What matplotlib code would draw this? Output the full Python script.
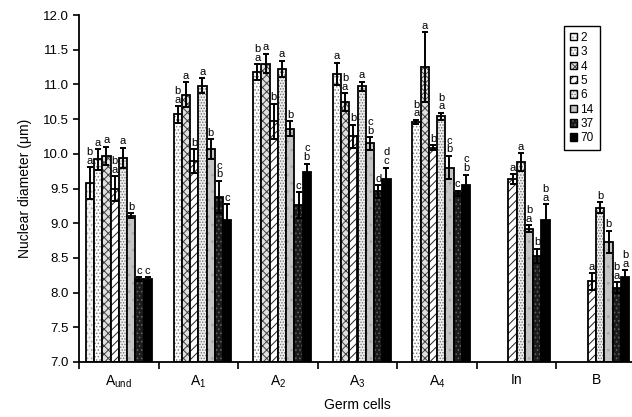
import numpy as np
import matplotlib
matplotlib.use('Agg')
import matplotlib.pyplot as plt
from matplotlib.patches import Patch

plt.rcParams['font.family'] = ['Liberation Sans', 'DejaVu Sans']
plt.rcParams['hatch.linewidth'] = 0.7

nan = np.nan

# germ cell types on the x axis, one series per age (days)
groups = [r'$\mathregular{A_{und}}$', r'$\mathregular{A_1}$', r'$\mathregular{A_2}$',
          r'$\mathregular{A_3}$', r'$\mathregular{A_4}$', 'In', 'B']
ages = ['2', '3', '4', '5', '6', '14', '37', '70']

mean_2 = [9.58, nan, nan, nan, nan, nan, nan]
mean_3 = [9.92, 10.57, 11.18, 11.15, 10.46, nan, nan]
mean_4 = [9.97, 10.85, 11.30, 10.74, 11.25, nan, nan]
mean_5 = [9.50, 9.90, 10.47, 10.25, 10.09, 9.64, 8.16]
mean_6 = [9.94, 10.98, 11.22, 10.97, 10.54, 9.88, 9.22]
mean_14 = [9.11, 10.07, 10.36, 10.15, 9.80, 8.92, 8.73]
mean_37 = [8.19, 9.38, 9.26, 9.46, 9.43, 8.53, 8.07]
mean_70 = [8.19, 9.05, 9.74, 9.63, 9.55, 9.05, 8.22]

err_2 = [0.23, nan, nan, nan, nan, nan, nan]
err_3 = [0.15, 0.12, 0.11, 0.16, 0.03, nan, nan]
err_4 = [0.13, 0.18, 0.14, 0.13, 0.50, nan, nan]
err_5 = [0.18, 0.17, 0.25, 0.17, 0.03, 0.07, 0.12]
err_6 = [0.15, 0.11, 0.12, 0.07, 0.05, 0.13, 0.08]
err_14 = [0.03, 0.14, 0.11, 0.09, 0.17, 0.05, 0.16]
err_37 = [0.03, 0.23, 0.19, 0.09, 0.04, 0.10, 0.08]
err_70 = [0.03, 0.22, 0.12, 0.17, 0.15, 0.22, 0.10]

sig_2 = ['b\na', '', '', '', '', '', '']
sig_3 = ['a', 'b\na', 'b\na', 'a', 'b\na', '', '']
sig_4 = ['a', 'a', 'a', 'b\na', 'a', '', '']
sig_5 = ['b\na', 'b', 'b', 'b', 'b', 'a', 'a']
sig_6 = ['a', 'a', 'a', 'a', 'b\na', 'a', 'b']
sig_14 = ['b', 'b', 'b', 'c\nb', 'c\nb', 'b\na', 'b']
sig_37 = ['c', 'c\nb', 'c', 'd', 'c', 'b', 'b\na']
sig_70 = ['c', 'c', 'c\nb', 'd\nc', 'c\nb', 'b\na', 'b\na']

means = [mean_2, mean_3, mean_4, mean_5, mean_6, mean_14, mean_37, mean_70]
errs = [err_2, err_3, err_4, err_5, err_6, err_14, err_37, err_70]
sigs = [sig_2, sig_3, sig_4, sig_5, sig_6, sig_14, sig_37, sig_70]

# fill colour, hatch, hatch colour for each age
styles = [('#f4f4f4', '....', '#a8a8a8'),
          ('white', '.....', '#808080'),
          ('#e0e0e0', 'xxxx', '#404040'),
          ('white', '////', '#202020'),
          ('#f0f0f0', '......', '#707070'),
          ('#c4c4c4', '..', '#a8a8a8'),
          ('#1a1a1a', '....', '#606060'),
          ('black', None, 'black')]

fig = plt.figure(figsize=(6.32, 4.17), dpi=100)
ax = fig.add_axes([79 / 632, 55 / 417, 557 / 632, 347 / 417])

w = 0.104
xs = np.arange(len(groups))
for k in range(len(ages)):
    m = np.array(means[k])
    e = np.array(errs[k])
    x = xs + (k - 3.5) * w
    face, hatch, hcol = styles[k]
    ax.bar(x, m - 7, bottom=7, width=w, color=face, hatch=hatch,
           edgecolor=hcol, linewidth=0)
    ax.bar(x, m - 7, bottom=7, width=w, fill=False, edgecolor='black',
           linewidth=1.3)
    ax.errorbar(x, m, yerr=e, fmt='none', ecolor='black', elinewidth=1.4,
                capsize=2.5, capthick=1.4)
    for xi, mi, ei, s in zip(x, m, e, sigs[k]):
        if s and not np.isnan(mi):
            ax.text(xi, mi + ei + 0.02, s, ha='center', va='bottom',
                    fontsize=8, linespacing=0.85)

ax.set_xlim(-0.5, 6.5)
ax.set_ylim(7.0, 12.0)
ax.set_yticks(np.arange(7.0, 12.01, 0.5))
ax.set_yticklabels(['%.1f' % v for v in np.arange(7.0, 12.01, 0.5)], fontsize=9.5)
ax.set_xticks(xs)
ax.set_xticklabels(groups, fontsize=10)
ax.set_xticks(np.arange(-0.5, 6.6, 1), minor=True)
ax.tick_params(axis='x', which='major', length=0, pad=8)
ax.tick_params(axis='x', which='minor', length=5, width=1.2, direction='out')
ax.tick_params(axis='y', length=4, width=1.2, direction='out')
for side in ['top', 'right']:
    ax.spines[side].set_visible(False)
for side in ['left', 'bottom']:
    ax.spines[side].set_linewidth(1.3)

ax.set_ylabel('Nuclear diameter (\u03bcm)', fontsize=10, labelpad=8)
ax.set_xlabel('Germ cells', fontsize=10, labelpad=6)

handles = []
for face, hatch, hcol in styles:
    handles.append((Patch(facecolor=face, hatch=hatch, edgecolor=hcol, linewidth=0),
                    Patch(fill=False, edgecolor='black', linewidth=1.0)))
leg = fig.legend(handles, ages, loc='upper left',
                 bbox_to_anchor=(558 / 632, 1 - 20 / 417), fontsize=8.5,
                 handlelength=0.6, handleheight=0.6, handletextpad=0.3,
                 labelspacing=0.2, borderpad=0.5, fancybox=False,
                 framealpha=1, edgecolor='black')
leg.get_frame().set_linewidth(1.0)

fig.savefig('out.png', dpi=100)
